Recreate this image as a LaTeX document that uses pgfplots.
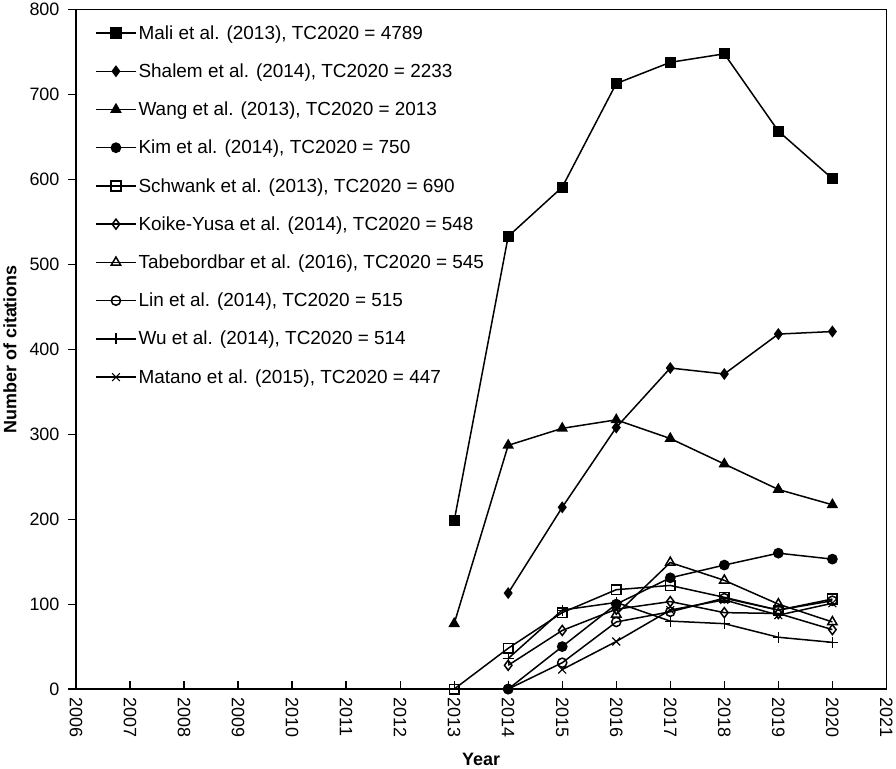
\documentclass[border=0pt]{standalone}
\usepackage{fontspec}
\setmainfont{Liberation Sans}
\usepackage{pgfplots}
\pgfplotsset{compat=1.18}
\begin{document}
\begin{tikzpicture}
\begin{axis}[
  scale only axis,
  width=810bp, height=679bp,
  xmin=2006, xmax=2021, ymin=0, ymax=800,
  xtick={2006,2007,...,2021},
  ytick={0,100,...,800},
  xtick pos=bottom, ytick pos=left,
  xtick align=inside, ytick align=outside,
  major tick length=8bp,
  axis line style={line width=1.5bp},
  every tick/.style={black, line width=1.2bp},
  /pgf/number format/assume math mode=true,
  /pgf/number format/1000 sep={},
  ticklabel style={font=\fontsize{18}{18}\selectfont},
  xticklabel style={yshift=-5bp, rotate=-90, anchor=west},
  yticklabel style={xshift=-5bp},
  xlabel={\bfseries Year},
  ylabel={\bfseries Number of citations},
  every axis x label/.style={at={(axis description cs:0.5,0)}, yshift=-70bp, anchor=center, font=\fontsize{18}{18}\selectfont},
  every axis y label/.style={at={(axis description cs:0,0.5)}, xshift=-66bp, rotate=90, anchor=center, font=\fontsize{18}{18}\selectfont},
  legend cell align=left,
  legend style={at={(0.02,0.983)}, anchor=north west, draw=none, fill=none,
    font=\fontsize{19}{19}\selectfont, row sep=19bp,
    nodes={inner sep=2bp}},
  legend image code/.code={\draw[mark repeat=2,mark phase=2,#1] plot coordinates {(0cm,0cm) (0.7cm,0cm) (1.4cm,0cm)};},
  pl/.style={black, solid, line width=1.5bp, mark options={solid, line width=1.1bp}},
]
\addplot[pl, mark=square*, mark size=4.8bp, mark options={fill=black}] coordinates {
 (2013,198) (2014,533) (2015,591) (2016,713) (2017,738) (2018,748) (2019,657) (2020,601)};
\addlegendentry{Mali et al. (2013), TC2020 = 4789}
\addplot[pl, mark=diamond*, mark size=4.8bp, mark options={fill=black}] coordinates {
 (2014,113) (2015,214) (2016,308) (2017,378) (2018,371) (2019,418) (2020,421)};
\addlegendentry{Shalem et al. (2014), TC2020 = 2233}
\addplot[pl, mark=triangle*, mark size=5.2bp, mark options={fill=black}] coordinates {
 (2013,77) (2014,287) (2015,307) (2016,317) (2017,295) (2018,265) (2019,235) (2020,217)};
\addlegendentry{Wang et al. (2013), TC2020 = 2013}
\addplot[pl, mark=*, mark size=4.6bp, mark options={fill=black}] coordinates {
 (2014,0) (2015,50) (2016,100) (2017,131) (2018,146) (2019,160) (2020,153)};
\addlegendentry{Kim et al. (2014), TC2020 = 750}
\addplot[pl, mark=square, mark size=4.8bp, mark options={fill=white}] coordinates {
 (2013,0) (2014,48) (2015,90) (2016,117) (2017,122) (2018,108) (2019,93) (2020,106)};
\addlegendentry{Schwank et al. (2013), TC2020 = 690}
\addplot[pl, mark=diamond, mark size=5bp, mark options={fill=white}] coordinates {
 (2014,28) (2015,69) (2016,94) (2017,103) (2018,90) (2019,89) (2020,70)};
\addlegendentry{Koike-Yusa et al. (2014), TC2020 = 548}
\addplot[pl, mark=triangle, mark size=5.4bp, mark options={fill=white}] coordinates {
 (2016,88) (2017,149) (2018,128) (2019,100) (2020,79)};
\addlegendentry{Tabebordbar et al. (2016), TC2020 = 545}
\addplot[pl, mark=o, mark size=4.6bp, mark options={fill=white}] coordinates {
 (2014,0) (2015,31) (2016,79) (2017,91) (2018,107) (2019,93) (2020,104)};
\addlegendentry{Lin et al. (2014), TC2020 = 515}
\addplot[pl, mark=+, mark size=5.5bp] coordinates {
 (2014,36) (2015,93) (2016,102) (2017,80) (2018,77) (2019,61) (2020,55)};
\addlegendentry{Wu et al. (2014), TC2020 = 514}
\addplot[pl, mark=x, mark size=5.5bp] coordinates {
 (2015,23) (2016,56) (2017,93) (2018,105) (2019,87) (2020,101)};
\addlegendentry{Matano et al. (2015), TC2020 = 447}
\end{axis}
\end{tikzpicture}
\end{document}
